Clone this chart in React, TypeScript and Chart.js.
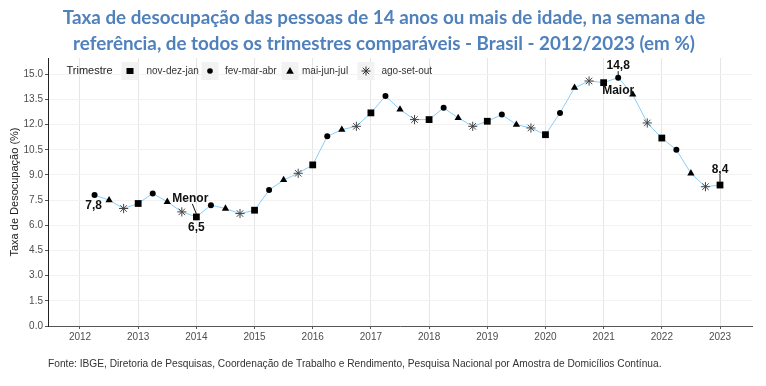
import React, { useEffect, useRef } from 'react';
import { Chart, registerables } from 'chart.js';

Chart.register(...registerables);

// ---------- texts ----------
const TITULO = [
  'Taxa de desocupação das pessoas de 14 anos ou mais de idade, na semana de',
  'referência, de todos os trimestres comparáveis - Brasil - 2012/2023 (em %)',
];
const FONTE =
  'Fonte: IBGE, Diretoria de Pesquisas, Coordenação de Trabalho e Rendimento, Pesquisa Nacional por Amostra de Domicílios Contínua.';
const EIXO_Y = 'Taxa de Desocupação (%)';
const LEGENDA_TITULO = 'Trimestre';

// ---------- categories ----------
const TRIMESTRES = ['nov-dez-jan', 'fev-mar-abr', 'mai-jun-jul', 'ago-set-out'];
const ESTILOS = ['rect', 'circle', 'triangle', 'star'];

// ---------- data (%): one value per year for each rolling quarter ----------
const anosNovDezJan = [2013, 2014, 2015, 2016, 2017, 2018, 2019, 2020, 2021, 2022, 2023];
const novDezJan = [7.3, 6.5, 6.9, 9.6, 12.7, 12.3, 12.2, 11.4, 14.5, 11.2, 8.4];

const anosDemais = [2012, 2013, 2014, 2015, 2016, 2017, 2018, 2019, 2020, 2021, 2022];
const fevMarAbr = [7.8, 7.9, 7.2, 8.1, 11.3, 13.7, 13.0, 12.6, 12.7, 14.8, 10.5];
const maiJunJul = [7.5, 7.4, 7.0, 8.7, 11.7, 12.9, 12.4, 12.0, 14.2, 13.8, 9.1];
const agoSetOut = [7.0, 6.8, 6.7, 9.1, 11.9, 12.3, 11.9, 11.8, 14.6, 12.1, 8.3];

// ---------- ticks ----------
const anosEixoX = [2012, 2013, 2014, 2015, 2016, 2017, 2018, 2019, 2020, 2021, 2022, 2023];
const ticksY = [0, 1.5, 3, 4.5, 6, 7.5, 9, 10.5, 12, 13.5, 15];

// ---------- highlighted labels ----------
const destaques = [
  { rotulo: '7,8', trimestre: 1, ano: 2012 },
  { rotulo: 'Menor', trimestre: 0, ano: 2014 },
  { rotulo: '6,5', trimestre: 0, ano: 2014 },
  { rotulo: '14,8', trimestre: 1, ano: 2021 },
  { rotulo: 'Maior', trimestre: 1, ano: 2021 },
  { rotulo: '8,4', trimestre: 0, ano: 2023 },
];

const series = [
  { anos: anosNovDezJan, valores: novDezJan },
  { anos: anosDemais, valores: fevMarAbr },
  { anos: anosDemais, valores: maiJunJul },
  { anos: anosDemais, valores: agoSetOut },
];

function pontos(i: number) {
  const s = series[i];
  return s.anos.map((a, k) => ({ x: a + i * 0.25, y: s.valores[k] }));
}

function valorDe(trim: number, ano: number) {
  const s = series[trim];
  const k = s.anos.indexOf(ano);
  return s.valores[k];
}

const SANS = '"Liberation Sans", Arial, sans-serif';

function drawSymbol(ctx: CanvasRenderingContext2D, kind: string, x: number, y: number) {
  ctx.save();
  ctx.fillStyle = '#000';
  ctx.strokeStyle = '#333';
  ctx.lineWidth = 1;
  if (kind === 'rect') {
    ctx.fillRect(x - 3.5, y - 3, 7, 6);
  } else if (kind === 'circle') {
    ctx.beginPath();
    ctx.arc(x, y, 2.8, 0, Math.PI * 2);
    ctx.fill();
  } else if (kind === 'triangle') {
    ctx.beginPath();
    ctx.moveTo(x, y - 4);
    ctx.lineTo(x + 3.8, y + 2.8);
    ctx.lineTo(x - 3.8, y + 2.8);
    ctx.closePath();
    ctx.fill();
  } else {
    const r = 4.5;
    ctx.beginPath();
    for (let a = 0; a < 4; a++) {
      const ang = (a * Math.PI) / 4;
      ctx.moveTo(x - r * Math.cos(ang), y - r * Math.sin(ang));
      ctx.lineTo(x + r * Math.cos(ang), y + r * Math.sin(ang));
    }
    ctx.stroke();
  }
  ctx.restore();
}

const decor = {
  id: 'decor',
  afterDraw(chart: any) {
    const ctx: CanvasRenderingContext2D = chart.ctx;
    ctx.save();
    // title
    ctx.fillStyle = '#4F81BD';
    ctx.font = 'bold 18.8px Lato, "Open Sans", sans-serif';
    ctx.textAlign = 'center';
    ctx.textBaseline = 'middle';
    ctx.fillText(TITULO[0], 384, 18);
    ctx.fillText(TITULO[1], 384, 44);
    // footer
    ctx.fillStyle = '#333';
    ctx.font = '10.2px ' + SANS;
    ctx.textAlign = 'left';
    ctx.fillText(FONTE, 48, 364);
    // legend
    const ly = 71;
    ctx.fillStyle = '#222';
    ctx.font = '11px ' + SANS;
    ctx.fillText(LEGENDA_TITULO, 66.5, ly);
    const keyX = [121.5, 201.5, 281.5, 357.5];
    const textX = [146.5, 225, 302, 381.5];
    TRIMESTRES.forEach((t, i) => {
      ctx.fillStyle = '#f2f2f2';
      ctx.fillRect(keyX[i], ly - 9, 17, 18);
      drawSymbol(ctx, ESTILOS[i], keyX[i] + 8.5, ly);
      ctx.fillStyle = '#333';
      ctx.font = '10px ' + SANS;
      ctx.fillText(t, textX[i], ly);
    });
    // highlighted labels
    const xs = chart.scales.x;
    const ys = chart.scales.y;
    const offs: Record<string, [number, number, number[] | null]> = {
      '7,8': [-1, 10.5, null],
      'Menor': [-6, -18.5, [-4, -13, 0, -3]],
      '6,5': [0, 10.5, null],
      '14,8': [0, -11.5, [0, -6.5, 0, -2]],
      'Maior': [0, 13, null],
      '8,4': [0, -15, [0, -10, 0, -2]],
    };
    ctx.font = 'bold 12px ' + SANS;
    ctx.fillStyle = '#111';
    ctx.strokeStyle = '#111';
    ctx.lineWidth = 1;
    ctx.textAlign = 'center';
    destaques.forEach((d) => {
      const px = xs.getPixelForValue(d.ano + d.trimestre * 0.25);
      const py = ys.getPixelForValue(valorDe(d.trimestre, d.ano));
      const o = offs[d.rotulo];
      ctx.fillText(d.rotulo, px + o[0], py + o[1]);
      if (o[2]) {
        ctx.beginPath();
        ctx.moveTo(px + o[2][0], py + o[2][1]);
        ctx.lineTo(px + o[2][2], py + o[2][3]);
        ctx.stroke();
      }
    });
    ctx.restore();
  },
};

export default function App() {
  const ref = useRef<HTMLCanvasElement | null>(null);
  useEffect(() => {
    if (!ref.current) return;
    Chart.defaults.font.family = SANS;
    const todos = [0, 1, 2, 3]
      .flatMap((i) => pontos(i))
      .sort((a, b) => a.x - b.x);
    const markerSets = TRIMESTRES.map((t, i) => ({
      label: t,
      data: pontos(i),
      showLine: false,
      pointStyle: ESTILOS[i],
      pointRadius: [4.8, 3, 4.2, 4.6][i],
      backgroundColor: '#000',
      borderColor: i === 3 ? '#444' : '#000',
      borderWidth: i === 3 ? 1 : 0,
      order: 0,
    }));
    const chart = new Chart(ref.current, {
      type: 'scatter',
      data: {
        datasets: [
          ...markerSets,
          {
            label: 'linha',
            data: todos,
            showLine: true,
            pointRadius: 0,
            borderColor: '#87CEFA',
            borderWidth: 1,
            order: 1,
          },
        ],
      } as any,
      options: {
        animation: false,
        responsive: false,
        layout: { padding: { left: 0, right: 14, top: 58, bottom: 0 } },
        plugins: { legend: { display: false }, tooltip: { enabled: false }, title: { display: false } },
        scales: {
          x: {
            type: 'linear',
            min: 2011.45,
            max: 2023.55,
            afterBuildTicks: (s: any) => {
              s.ticks = anosEixoX.map((v) => ({ value: v }));
            },
            afterFit: (s: any) => {
              s.height = 60;
            },
            grid: { color: '#e6e6e6', tickColor: '#555', tickLength: 3, lineWidth: 1 },
            border: { color: '#555', width: 1 },
            ticks: { color: '#4d4d4d', font: { size: 10 }, padding: 2, callback: (v: any) => String(v) },
          },
          y: {
            type: 'linear',
            min: 0,
            max: 15.97,
            afterBuildTicks: (s: any) => {
              s.ticks = ticksY.map((v) => ({ value: v }));
            },
            afterFit: (s: any) => {
              s.width = 48;
            },
            grid: { color: '#f2f2f2', tickColor: '#555', tickLength: 3, lineWidth: 1 },
            border: { color: '#222', width: 1 },
            ticks: { color: '#4d4d4d', font: { size: 10 }, padding: 2, callback: (v: any) => Number(v).toFixed(1) },
            title: { display: true, text: EIXO_Y, color: '#222', font: { size: 11 }, padding: { top: 8, bottom: 0 } },
          },
        },
      } as any,
      plugins: [decor],
    });
    return () => chart.destroy();
  }, []);
  return (
    <div style={{ position: 'fixed', left: 0, top: 0, width: 766, height: 386, background: '#fff' }}>
      <canvas ref={ref} width={766} height={386} style={{ display: 'block' }} />
    </div>
  );
}
